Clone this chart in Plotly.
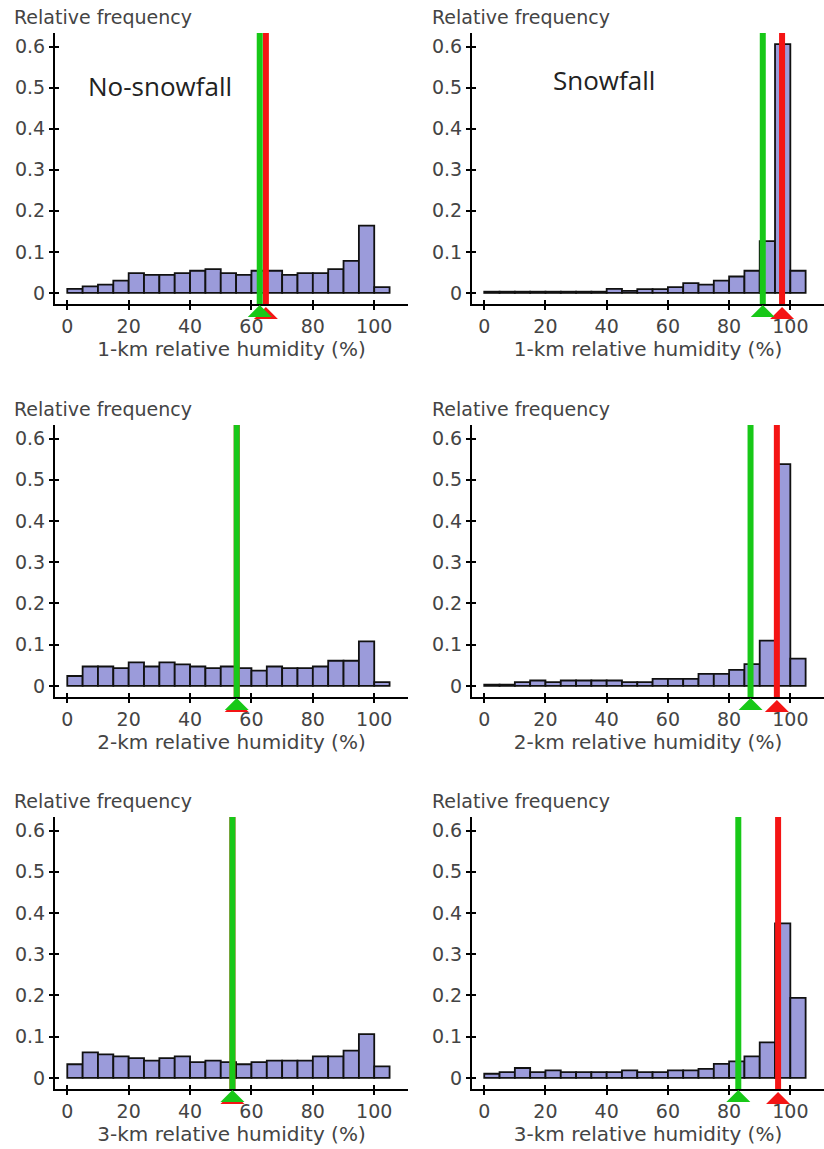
import plotly.graph_objects as go

# ---------------- data ----------------
bin_starts = [0, 5, 10, 15, 20, 25, 30, 35, 40, 45, 50, 55, 60, 65, 70, 75, 80, 85, 90, 95, 100]
bin_width = 5

ns_1km = [0.010, 0.016, 0.020, 0.030, 0.048, 0.044, 0.044, 0.048, 0.054, 0.058, 0.048,
          0.044, 0.054, 0.054, 0.044, 0.048, 0.048, 0.058, 0.078, 0.164, 0.014]
s_1km = [0.003, 0.003, 0.003, 0.003, 0.003, 0.003, 0.003, 0.003, 0.010, 0.005, 0.009,
         0.009, 0.014, 0.024, 0.020, 0.030, 0.040, 0.054, 0.126, 0.606, 0.054]
ns_2km = [0.024, 0.047, 0.047, 0.043, 0.057, 0.047, 0.057, 0.052, 0.047, 0.043, 0.047,
          0.043, 0.037, 0.047, 0.043, 0.043, 0.047, 0.061, 0.061, 0.108, 0.009]
s_2km = [0.003, 0.003, 0.009, 0.013, 0.009, 0.013, 0.013, 0.013, 0.013, 0.009, 0.009,
         0.017, 0.017, 0.017, 0.029, 0.029, 0.039, 0.053, 0.110, 0.538, 0.066]
ns_3km = [0.033, 0.062, 0.057, 0.052, 0.048, 0.042, 0.048, 0.052, 0.038, 0.042, 0.038,
          0.033, 0.038, 0.042, 0.042, 0.042, 0.052, 0.052, 0.066, 0.106, 0.028]
s_3km = [0.010, 0.014, 0.024, 0.014, 0.018, 0.014, 0.014, 0.014, 0.014, 0.018, 0.014,
         0.014, 0.018, 0.018, 0.022, 0.034, 0.040, 0.052, 0.086, 0.375, 0.194]

# green marker line / red marker line per panel (RH %)
green_vals = [62.7, 91.0, 55.2, 87.0, 53.8, 83.0]
red_vals = [64.7, 97.3, 55.2, 95.6, 53.8, 96.0]

panel_series = [ns_1km, s_1km, ns_2km, s_2km, ns_3km, s_3km]
x_titles = ["1-km relative humidity (%)", "1-km relative humidity (%)",
            "2-km relative humidity (%)", "2-km relative humidity (%)",
            "3-km relative humidity (%)", "3-km relative humidity (%)"]
y_tick_vals = [0, 0.1, 0.2, 0.3, 0.4, 0.5, 0.6]
y_tick_text = ["0", "0.1", "0.2", "0.3", "0.4", "0.5", "0.6"]
x_tick_vals = [0, 20, 40, 60, 80, 100]
x_tick_text = ["0", "20", "40", "60", "80", "100"]
panel_labels = ["No-snowfall", "Snowfall"]

# ---------------- layout geometry ----------------
W, H = 824, 1149
left_dom = [55 / W, 408 / W]
right_dom = [472 / W, 1.0]
row_px = [(33, 304), (425, 697), (817, 1089)]
row_dom = [[1 - b / H, 1 - t / H] for (t, b) in row_px]
XR = [-4, 111]
YR = [-0.027, 0.633]

BAR_FILL = "#9b9bda"
GREEN = "#18c818"
RED = "#f41414"
TXT = "#444444"
FONT = "DejaVu Sans"
FS = 19

centers = [s + bin_width / 2 for s in bin_starts]
TRI_GREEN = "M-12,-13 L12,-13 L0,-1 Z"
TRI_RED = "M-12,-15 L12,-15 L0,-3 Z"

fig = go.Figure()
layout = dict(width=W, height=H, margin=dict(l=0, r=0, t=0, b=0),
              paper_bgcolor="white", plot_bgcolor="white", showlegend=False,
              font=dict(family=FONT, size=FS, color=TXT))
shapes = []
annotations = []

for i in range(6):
    n = i + 1
    xs = "x" if n == 1 else f"x{n}"
    ys = "y" if n == 1 else f"y{n}"
    row, col = i // 2, i % 2
    xdom = left_dom if col == 0 else right_dom
    ydom = row_dom[row]

    fig.add_trace(go.Bar(x=centers, y=panel_series[i], width=bin_width,
                         marker=dict(color=BAR_FILL, line=dict(color="#111111", width=1.8)),
                         xaxis=xs, yaxis=ys, hoverinfo="skip"))

    layout["xaxis" if n == 1 else f"xaxis{n}"] = dict(
        domain=xdom, anchor=ys, range=XR, showgrid=False, zeroline=False,
        showline=True, linecolor="black", linewidth=2,
        ticks="outside", ticklen=4, tickwidth=1.5, tickcolor="black",
        tickvals=x_tick_vals, ticktext=x_tick_text,
        tickfont=dict(family=FONT, size=FS, color=TXT),
        title=dict(text=x_titles[i], font=dict(family=FONT, size=20, color=TXT), standoff=3))
    layout["yaxis" if n == 1 else f"yaxis{n}"] = dict(
        domain=ydom, anchor=xs, range=YR, showgrid=False, zeroline=False,
        showline=True, linecolor="black", linewidth=2,
        ticks="outside", ticklen=4, tickwidth=1.5, tickcolor="black",
        tickvals=y_tick_vals, ticktext=y_tick_text,
        tickfont=dict(family=FONT, size=FS, color=TXT))

    # overlay axes giving the inner half of the crossing ticks
    m = n + 6
    fig.add_trace(go.Scatter(x=[], y=[], xaxis=f"x{m}", yaxis=f"y{m}", hoverinfo="skip"))
    layout[f"xaxis{m}"] = dict(overlaying=xs, anchor=f"y{m}", range=XR, showgrid=False,
                               zeroline=False, showline=False, ticks="inside", ticklen=4,
                               tickwidth=1.5, tickcolor="black", tickvals=x_tick_vals,
                               showticklabels=False)
    layout[f"yaxis{m}"] = dict(overlaying=ys, anchor=f"x{m}", range=YR, showgrid=False,
                               zeroline=False, showline=False, ticks="inside", ticklen=4,
                               tickwidth=1.5, tickcolor="black", tickvals=y_tick_vals,
                               showticklabels=False)

    # vertical marker lines (red first, green on top)
    for val, colr in ((red_vals[i], RED), (green_vals[i], GREEN)):
        shapes.append(dict(type="line", xref=xs, yref=f"{ys} domain", x0=val, x1=val,
                           y0=0, y1=1, line=dict(color=colr, width=6), layer="above"))
    # triangles under the axis
    for val, colr, tri in ((red_vals[i], RED, TRI_RED), (green_vals[i], GREEN, TRI_GREEN)):
        shapes.append(dict(type="path", xref=xs, yref=f"{ys} domain",
                           xsizemode="pixel", ysizemode="pixel", xanchor=val, yanchor=0,
                           path=tri, fillcolor=colr, line=dict(width=0),
                           layer="above"))

    # "Relative frequency" header
    hx = 12 if col == 0 else 430
    annotations.append(dict(text="Relative frequency", xref="paper", yref="paper",
                            x=hx / W, y=1 - (row_px[row][0] - 16) / H, xanchor="left",
                            yanchor="middle", showarrow=False,
                            font=dict(family=FONT, size=FS, color=TXT)))

annotations.append(dict(text=panel_labels[0], xref="paper", yref="paper", x=160 / W,
                        y=1 - 86 / H, xanchor="center", yanchor="middle", showarrow=False,
                        font=dict(family="Open Sans", size=26, color="#222222")))
annotations.append(dict(text=panel_labels[1], xref="paper", yref="paper", x=604 / W,
                        y=1 - 80 / H, xanchor="center", yanchor="middle", showarrow=False,
                        font=dict(family="Open Sans", size=26, color="#222222")))

layout["shapes"] = shapes
layout["annotations"] = annotations
fig.update_layout(**layout)
fig.write_html("out.html")
